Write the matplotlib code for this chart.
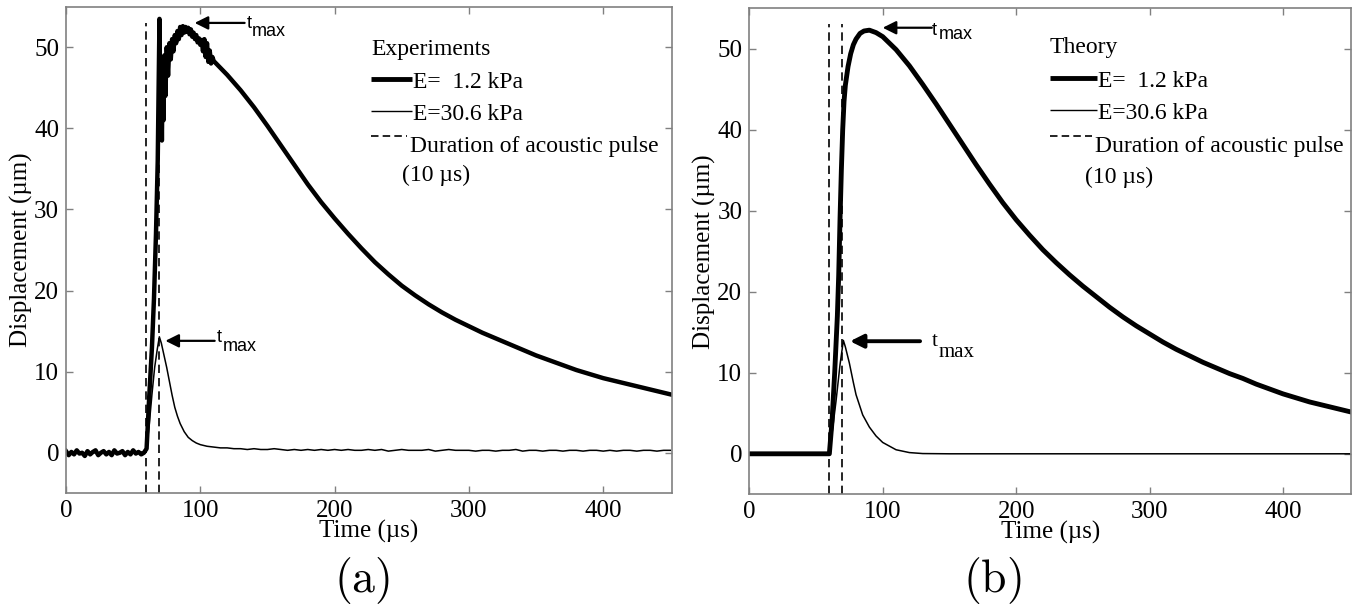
import matplotlib
matplotlib.use("Agg")
import matplotlib.pyplot as plt
from matplotlib.lines import Line2D

plt.rcParams['font.family'] = ['Liberation Serif', 'DejaVu Serif']
plt.rcParams['mathtext.fontset'] = 'cm'

# ---------------- data ----------------
# pulse window (us)
pulse_start = 59.5
pulse_end = 69.5
pulse_top = 53

# experiments, E = 1.2 kPa
exp_soft_t = [0, 2, 4, 6, 8, 10, 12, 14, 16, 18, 20, 22, 24, 26, 28, 30, 32, 34, 36, 38,
              40, 42, 44, 46, 48, 50, 52, 54, 56, 58,
              60, 62, 64, 65.5, 67, 68.3, 69.6, 70.2, 70.8, 71.4, 72, 72.6, 73.2, 74, 75,
              76, 77, 78, 79, 80, 81, 82, 83, 84, 85, 86, 87, 88, 89, 90, 91, 92, 93, 94,
              95, 96, 97, 98, 99, 100, 101, 102, 103, 104, 105, 106, 107, 108, 109, 110,
              120, 130, 140, 150, 160, 170, 180, 190, 200, 210, 220, 230, 240, 250,
              260, 270, 280, 290, 300, 310, 320, 330, 340, 350, 360, 370, 380, 390, 400,
              410, 420, 430, 440, 450]
exp_soft_d = [0.2, -0.3, 0.1, -0.2, 0.3, -0.1, 0.0, -0.4, 0.2, -0.2, 0.1, 0.3, -0.3, 0.0,
              0.2, -0.2, 0.1, -0.3, 0.3, -0.1, 0.0, 0.2, -0.3, 0.1, -0.2, 0.3, -0.1, 0.1,
              -0.2, 0.0,
              0.5, 7, 13, 19, 27, 36, 53.5, 40, 47, 38.5, 48, 41, 49, 44, 50,
              46.5, 50.5, 48.5, 51, 49.5, 51.5, 50.5, 52, 51, 52.5, 51.5, 52.6, 51.8, 52.5,
              51.9, 52.4, 51.6, 52.2, 51.3, 51.8, 51.0, 51.5, 50.6, 51.1, 50.3, 50.9, 49.5,
              51.0, 48.8, 50.5, 48.2, 49.6, 48.0, 48.8, 48.3,
              46.6, 44.7, 42.6, 40.3, 37.9, 35.5, 33.1, 30.9, 28.9, 27.0, 25.2, 23.5,
              22.0, 20.6, 19.4, 18.3, 17.3, 16.4, 15.6, 14.8, 14.1, 13.4, 12.7, 12.0, 11.4,
              10.8, 10.2, 9.7, 9.2, 8.8, 8.4, 8.0, 7.6, 7.2]

# experiments, E = 30.6 kPa
exp_stiff_t = [0, 4, 8, 12, 16, 20, 24, 28, 32, 36, 40, 44, 48, 52, 56,
               59, 60, 62, 64, 66, 68, 69.5, 71, 73, 75, 77, 79, 81, 83, 85, 88, 91, 94,
               97, 100, 105, 110, 115, 120, 125, 130, 135, 140, 145, 150, 155, 160, 165,
               170, 175, 180, 185, 190, 195, 200, 205, 210, 215, 220, 225, 230, 235, 240,
               245, 250, 255, 260, 265, 270, 275, 280, 285, 290, 295, 300, 305, 310, 315,
               320, 325, 330, 335, 340, 345, 350, 355, 360, 365, 370, 375, 380, 385, 390,
               395, 400, 405, 410, 415, 420, 425, 430, 435, 440, 445, 450]
exp_stiff_d = [0.1, -0.1, 0.1, -0.1, 0.0, 0.1, -0.1, 0.1, -0.1, 0.1, -0.1, 0.0, 0.1, -0.1,
               0.1,
               0.0, 0.5, 3.5, 7.2, 10.5, 12.8, 14.3, 13.5, 12.0, 10.5, 8.8, 7.1, 5.6, 4.5,
               3.6, 2.6, 1.9, 1.5, 1.2, 1.0, 0.8, 0.7, 0.6, 0.6, 0.5, 0.5, 0.4, 0.5, 0.4,
               0.4, 0.5, 0.4, 0.3, 0.4, 0.3, 0.4, 0.3, 0.4, 0.3, 0.4, 0.3, 0.4, 0.3, 0.3,
               0.4, 0.3, 0.4, 0.2, 0.3, 0.4, 0.3, 0.3, 0.3, 0.4, 0.2, 0.3, 0.4, 0.3, 0.3,
               0.3, 0.2, 0.3, 0.3, 0.2, 0.3, 0.3, 0.4, 0.2, 0.3, 0.3, 0.2, 0.3, 0.3, 0.2,
               0.3, 0.3, 0.2, 0.3, 0.3, 0.2, 0.3, 0.2, 0.3, 0.3, 0.2, 0.3, 0.3, 0.2, 0.3,
               0.3]

# theory, E = 1.2 kPa
th_soft_t = [0, 60, 62, 64, 66, 67, 68, 69, 70, 71, 72, 74, 76, 78, 80, 83, 86, 90, 95,
             100, 110, 120, 130, 140, 150, 160, 170, 180, 190, 200, 210, 220, 230, 240,
             250, 260, 270, 280, 290, 300, 310, 320, 330, 340, 350, 360, 370, 380, 390,
             400, 410, 420, 430, 440, 450]
th_soft_d = [0, 0, 4, 10, 17, 22, 29, 35, 40, 43.5, 45.5, 47.8, 49.4, 50.5, 51.2, 51.9,
             52.2, 52.3, 52.0, 51.5, 49.9, 47.9, 45.6, 43.2, 40.7, 38.2, 35.7, 33.3, 31.0,
             28.9, 27.0, 25.2, 23.6, 22.1, 20.7, 19.4, 18.1, 16.9, 15.8, 14.8, 13.8, 12.9,
             12.1, 11.3, 10.6, 9.9, 9.3, 8.6, 8.0, 7.4, 6.9, 6.4, 6.0, 5.6, 5.2]

# theory, E = 30.6 kPa
th_stiff_t = [0, 59.5, 62, 65, 68, 70.5, 72, 75, 78, 80, 85, 90, 95, 100, 110, 120, 130,
              150, 450]
th_stiff_d = [0, 0, 2.5, 6.5, 11, 14, 13.2, 11.2, 8.8, 7.3, 4.8, 3.3, 2.2, 1.4, 0.5,
              0.15, 0.03, 0, 0]

W, H = 1358, 614
FS = 18


def fpos(px, py):
    # pixel position -> figure fraction
    return px / W, 1 - py / H


def style_axes(ax):
    ax.set_xlim(0, 451)
    ax.set_ylim(-5, 55)
    ax.set_xticks([0, 100, 200, 300, 400])
    ax.set_yticks([0, 10, 20, 30, 40, 50])
    ax.tick_params(direction='in', top=True, right=True, length=5, width=1,
                   color='0.5', labelsize=FS, pad=5)
    for s in ax.spines.values():
        s.set_color('0.5')
        s.set_linewidth(1.2)
    ax.set_xlabel('Time (µs)', fontsize=FS, labelpad=-2)
    ax.set_ylabel('Displacement (µm)', fontsize=FS, labelpad=1)


def tmax(ax, tip, tail, tx, ty, mx, my, serif=False, lw=1.6):
    ax.annotate('', xy=tip, xytext=tail,
                arrowprops=dict(arrowstyle='-|>', lw=lw, color='k', mutation_scale=20,
                                shrinkA=0, shrinkB=0))
    fam = 'Liberation Serif' if serif else 'Liberation Sans'
    size = 15 if serif else 13
    ax.text(tx, ty, 't', fontsize=size, family=fam, va='baseline')
    ax.text(mx, my, 'max', fontsize=size, family=fam, va='baseline')


def legend(fig, title, x0, x1, xp, rows):
    # hand-made legend block, rows = baselines of each line
    fig.text(*fpos(x0, rows[0]), title, fontsize=17, va='baseline')
    fig.add_artist(Line2D([x0 / W, x1 / W], [1 - (rows[1] - 9) / H] * 2, color='k', lw=3.5,
                          solid_capstyle='butt'))
    fig.text(*fpos(x1 + 1, rows[1]), 'E=  1.2 kPa', fontsize=17, va='baseline')
    fig.add_artist(Line2D([x0 / W, x1 / W], [1 - (rows[2] - 9) / H] * 2, color='k', lw=1,
                          solid_capstyle='butt'))
    fig.text(*fpos(x1 + 1, rows[2]), 'E=30.6 kPa', fontsize=17, va='baseline')
    fig.add_artist(Line2D([x0 / W, (x1 - 5) / W], [1 - (rows[3] - 16) / H] * 2, color='k',
                          lw=1.2, linestyle=(0, (4.5, 2.5)), dash_capstyle='butt'))
    fig.text(*fpos(x1 - 2, rows[3]), 'Duration of acoustic pulse', fontsize=17,
             va='baseline')
    fig.text(*fpos(xp, rows[4]), '(10 µs)', fontsize=17, va='baseline')


fig = plt.figure(figsize=(13.58, 6.14), dpi=100)

############################################################
# (a) experiments
############################################################
ax1 = fig.add_axes([66 / W, 120.7 / H, (671.7 - 66) / W, (607.3 - 120.7) / H])
ax1.plot(exp_stiff_t, exp_stiff_d, color='k', lw=1.1)
ax1.plot(exp_soft_t, exp_soft_d, color='k', lw=3.2)
ax1.vlines([pulse_start, pulse_end], -5, pulse_top, colors='k', lw=1.2,
           linestyles=[(0, (5, 3))])
style_axes(ax1)
tmax(ax1, (95.8, 53.0), (133, 53.0), 134.5, 52.4, 138.3, 51.4)
tmax(ax1, (74, 13.8), (110.7, 13.8), 112, 13.7, 116.4, 12.5)
legend(fig, 'Experiments', 371, 412, 402, [55, 88, 120, 152, 181])
fig.text(362 / W, 1 - 580 / H, r'$\mathrm{(a)}$', fontsize=33, ha='center', va='center')

############################################################
# (b) theory
############################################################
ax2 = fig.add_axes([749.3 / W, 119.7 / H, (1351 - 749.3) / W, (605.7 - 119.7) / H])
ax2.plot(th_stiff_t, th_stiff_d, color='k', lw=1.1)
ax2.plot(th_soft_t, th_soft_d, color='k', lw=3.5)
ax2.vlines([pulse_start, pulse_end], -5, pulse_top, colors='k', lw=1.2,
           linestyles=[(0, (5, 3))])
style_axes(ax2)
tmax(ax2, (100, 52.6), (136.8, 52.6), 136.8, 51.7, 141.8, 51.2)
tmax(ax2, (75.5, 13.9), (128, 13.9), 136.8, 13.3, 141.8, 12.0, serif=True, lw=2.8)
legend(fig, 'Theory', 1050, 1097, 1085, [53, 87, 119, 152, 183])
fig.text(992 / W, 1 - 580 / H, r'$\mathrm{(b)}$', fontsize=33, ha='center', va='center')

plt.savefig('out.png', dpi=100)
